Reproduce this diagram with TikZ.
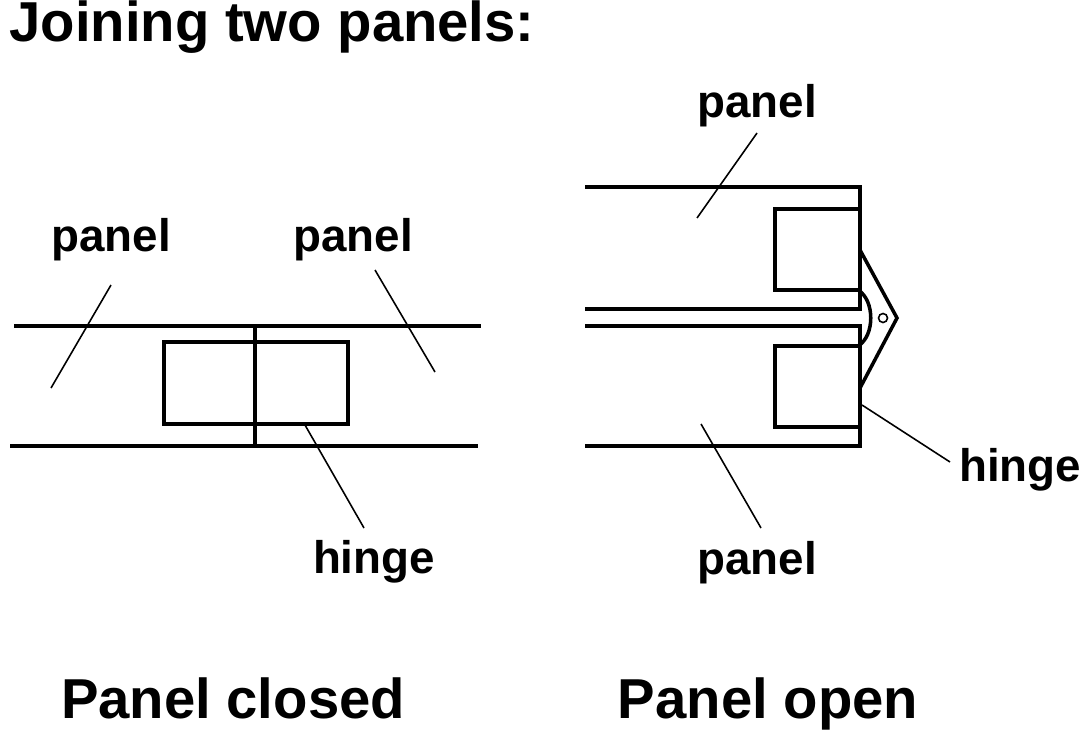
\documentclass[tikz,border=0pt]{standalone}
\usepackage{fontspec}
\setmainfont{Liberation Sans}
\begin{document}
\begin{tikzpicture}[x=0.01cm,y=-0.01cm,part/.style={line width=1pt},lead/.style={line width=0.45pt},
  label node/.style={font=\fontsize{13}{15}\selectfont\bfseries},
  title node/.style={font=\fontsize{16}{18}\selectfont\bfseries,anchor=base}]
  \useasboundingbox (0,0) rectangle (1080,730);
  \node[title node,anchor=base west] (title) at (-3,41) {Joining two panels:};
  % closed
  \draw[part] (14,326) -- (481,326);
  \draw[part] (10,446) -- (478,446);
  \draw[part] (255,326) -- (255,446);
  \draw[part] (164,342) rectangle (348,424);
  \node[label node] (p1) at (111,240) {panel};
  \node[label node] (p2) at (353,240) {panel};
  \node[label node] (h1) at (374,562) {hinge};
  \coordinate (a1) at (51,388); \coordinate (a2) at (435,372); \coordinate (a3) at (305,425);
  \draw[lead] (111,285) -- (a1);
  \draw[lead] (375,270) -- (a2);
  \draw[lead] (a3) -- (364,528);
  \node[title node] (closed) at (233,718) {Panel closed};
  % open
  \draw[part] (585,187) -- (860,187) -- (860,309) -- (585,309);
  \draw[part] (585,326) -- (860,326) -- (860,446) -- (585,446);
  \draw[part] (858,209) -- (775,209) -- (775,290) -- (858,290);
  \draw[part] (858,346) -- (775,346) -- (775,427) -- (858,427);
  \draw[part] (860,250) -- (897,318) -- (860,388);
  \draw[part] (858,290) .. controls (875,300) and (875,336) .. (858,346);
  \draw[lead] (883,318) circle (4.5);
  \node[label node] (p3) at (757,106) {panel};
  \node[label node] (p4) at (757,563) {panel};
  \node[label node] (h2) at (1020,470) {hinge};
  \coordinate (b1) at (697,218); \coordinate (b2) at (701,424); \coordinate (b3) at (862,405);
  \draw[lead] (757,133) -- (b1);
  \draw[lead] (b2) -- (761,528);
  \draw[lead] (b3) -- (950,462);
  \node[title node] (open) at (768,718) {Panel open};
\end{tikzpicture}
\end{document}
